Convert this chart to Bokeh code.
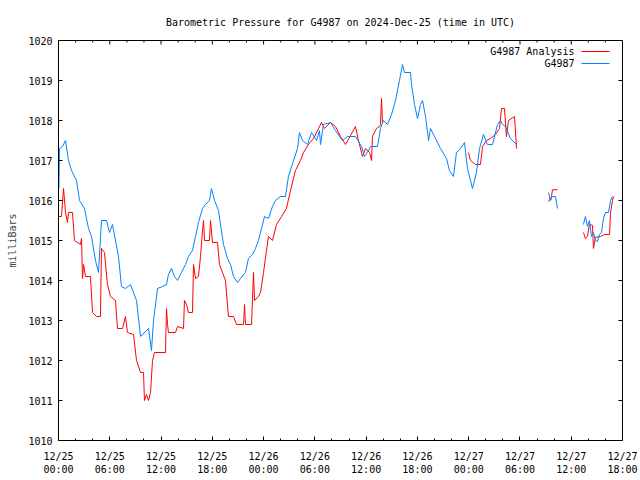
import math
from bokeh.plotting import figure
from bokeh.models import FixedTicker, LinearAxis, Range1d, Label, Arrow
from bokeh.embed import file_html
from bokeh.resources import INLINE

nan = math.nan

# Hours since 2024-12-25 00:00 UTC ; pressure in millibars (nan = no data)
station_hours = [
    0.05, 0.12, 0.47, 0.82, 1.17, 1.52, 2.11, 2.46, 3.04, 3.51, 3.86, 4.33, 4.68, 5.03, 5.62,
    5.97, 6.32, 7.02, 7.37, 7.84, 8.43, 9.13, 9.60, 10.53, 10.88, 11.12, 11.59, 12.17, 12.64,
    12.87, 13.22, 13.57, 13.93, 14.39, 14.86, 15.21, 15.68, 16.03, 16.38, 16.85, 17.20, 17.67,
    17.90, 18.26, 18.72, 18.96, 19.31, 19.78, 20.13, 20.48, 20.95, 21.30, 21.88, 22.23, 22.70,
    23.05, 23.40, 23.64, 24.11, 24.57, 25.04, 25.39, 25.98, 26.56, 26.91, 27.50, 27.97, 28.20,
    28.55, 29.14, 29.61, 30.19, 30.54, 30.66, 31.01, 31.83, 32.41, 33.23, 33.82, 34.75, 35.46,
    35.81, 36.28, 36.51, 37.33, 37.68, 38.03, 38.50, 38.97, 39.44, 39.90, 40.26, 40.49, 41.19,
    41.31, 41.66, 42.01, 42.36, 42.60, 42.95, 43.30, 43.53, 44.00, 44.70, 45.40, 45.75, 46.22,
    46.57, 47.04, 47.51, 47.86, 48.44, 48.91, 49.27, 49.73, 50.20, 50.79, 51.37, 51.72, 51.96,
    52.31, 52.89, 53.60,
    55.50,
    57.34, 57.57, 57.81, 58.16, 58.39,
    60.00,
    61.43, 61.66, 61.90, 62.13, 62.37, 62.60, 62.84, 63.07, 63.31, 63.54, 63.77, 64.01, 64.36,
    64.60, 64.83,
]
station_pressure = [
    1016.3, 1017.3, 1017.35, 1017.5, 1017.0, 1016.75, 1016.5, 1016.0, 1015.8, 1015.3, 1015.1,
    1014.5, 1014.2, 1015.5, 1015.5, 1015.2, 1015.4, 1014.6, 1013.85, 1013.8, 1013.9, 1013.5,
    1012.6, 1012.8, 1012.25, 1013.0, 1013.8, 1013.85, 1013.9, 1014.15, 1014.3, 1014.1, 1014.0,
    1014.2, 1014.4, 1014.6, 1014.75, 1015.1, 1015.45, 1015.8, 1015.9, 1016.0, 1016.3, 1016.0,
    1015.75, 1015.4, 1014.9, 1014.55, 1014.4, 1014.1, 1013.95, 1014.05, 1014.2, 1014.55,
    1014.65, 1014.8, 1015.0, 1015.2, 1015.6, 1015.55, 1015.85, 1016.0, 1016.1, 1016.1, 1016.6,
    1017.0, 1017.3, 1017.7, 1017.5, 1017.4, 1017.7, 1017.5, 1017.75, 1017.4, 1017.9, 1017.95,
    1017.75, 1017.5, 1017.6, 1017.6, 1017.35, 1017.1, 1017.25, 1017.35, 1017.35, 1017.8,
    1018.0, 1017.9, 1018.15, 1018.5, 1019.0, 1019.4, 1019.2, 1019.2, 1018.9, 1018.4, 1018.05,
    1018.4, 1018.5, 1018.1, 1017.5, 1017.8, 1017.6, 1017.3, 1017.05, 1016.75, 1016.6, 1017.2,
    1017.3, 1017.45, 1016.8, 1016.3, 1016.7, 1017.3, 1017.65, 1017.4, 1017.4, 1017.9, 1018.0,
    1017.9, 1017.85, 1017.55, 1017.4,
    nan,
    1016.2, 1016.0, 1016.1, 1016.1, 1015.8,
    nan,
    1015.4, 1015.6, 1015.35, 1015.5, 1015.1, 1015.2, 1015.0, 1014.97, 1015.15, 1015.2, 1015.55,
    1015.7, 1015.7, 1016.0, 1016.1,
]

analysis_hours = [
    0.00, 0.35, 0.59, 0.82, 1.05, 1.17, 1.64, 1.87, 2.57, 2.69, 2.81, 2.93, 3.16, 3.74, 3.98,
    4.45, 4.91, 5.03, 5.38, 5.73, 6.09, 6.67, 6.90, 7.49, 7.84, 8.07, 8.78, 9.13, 9.60, 9.95,
    10.06, 10.30, 10.53, 10.77, 11.00, 11.23, 12.52, 12.64, 12.76, 12.87, 13.69, 13.93, 14.63,
    14.74, 14.98, 15.21, 15.68, 15.80, 16.03, 16.38, 16.62, 16.85, 16.97, 17.09, 17.67, 17.79,
    18.02, 18.61, 18.84, 19.19, 19.54, 19.89, 20.48, 20.83, 21.65, 21.77, 21.88, 22.59, 22.82,
    22.94, 23.40, 23.64, 23.99, 24.34, 24.57, 25.04, 25.51, 26.10, 26.68, 27.15, 27.73, 28.32,
    28.67, 29.26, 29.84, 30.43, 30.78, 31.13, 31.83, 32.41, 33.00, 33.59, 34.75, 35.11, 35.57,
    35.93, 36.40, 36.63, 36.74, 37.21, 37.56, 37.68, 37.80, 37.91,
    43.00,
    47.98, 48.21, 48.80, 49.38, 49.62, 50.09, 50.55, 51.14, 51.61, 51.84, 52.19, 52.42, 52.66,
    53.36, 53.60,
    55.50,
    57.34, 57.69, 57.81, 58.39,
    60.00,
    61.43, 61.66, 61.90, 62.13, 62.49, 62.60, 62.84, 63.42, 63.89, 64.48, 64.60, 64.83, 64.95,
]
analysis_pressure = [
    1015.6, 1015.6, 1016.3, 1015.7, 1015.45, 1015.7, 1015.7, 1015.0, 1014.9, 1015.05, 1014.05,
    1014.4, 1014.1, 1014.1, 1013.2, 1013.1, 1013.1, 1014.8, 1014.7, 1013.9, 1013.6, 1013.5,
    1012.8, 1012.8, 1013.1, 1012.7, 1012.65, 1012.0, 1011.7, 1011.7, 1011.0, 1011.15, 1011.0,
    1011.2, 1012.0, 1012.2, 1012.2, 1013.3, 1012.9, 1012.7, 1012.7, 1012.85, 1012.8, 1013.5,
    1013.4, 1013.2, 1013.2, 1014.4, 1014.05, 1014.1, 1014.6, 1015.25, 1015.5, 1015.0, 1015.0,
    1015.5, 1014.95, 1014.95, 1014.4, 1014.2, 1014.0, 1013.1, 1013.1, 1012.9, 1012.9, 1013.4,
    1012.9, 1012.9, 1014.2, 1013.5, 1013.6, 1013.7, 1014.2, 1014.75, 1015.1, 1015.0, 1015.4,
    1015.6, 1015.8, 1016.25, 1016.75, 1017.0, 1017.2, 1017.4, 1017.55, 1017.8, 1017.95, 1017.8,
    1017.95, 1017.85, 1017.6, 1017.4, 1017.85, 1017.5, 1017.1, 1017.3, 1017.2, 1017.0, 1017.6,
    1017.8, 1017.85, 1017.9, 1018.55, 1017.95,
    nan,
    1017.2, 1017.0, 1016.9, 1016.9, 1017.35, 1017.5, 1017.55, 1017.65, 1017.8, 1018.3, 1018.3,
    1017.6, 1018.0, 1018.1, 1017.3,
    nan,
    1015.97, 1016.1, 1016.27, 1016.27,
    nan,
    1015.2, 1015.05, 1015.1, 1015.4, 1015.38, 1014.8, 1015.08, 1015.1, 1015.15, 1015.15,
    1015.7, 1016.0, 1016.1,
]

x_tick_hours = [0, 6, 12, 18, 24, 30, 36, 42, 48, 54, 60, 66]
x_tick_labels = ["12/25\n00:00", "12/25\n06:00", "12/25\n12:00", "12/25\n18:00",
                 "12/26\n00:00", "12/26\n06:00", "12/26\n12:00", "12/26\n18:00",
                 "12/27\n00:00", "12/27\n06:00", "12/27\n12:00", "12/27\n18:00"]
x_minor_hours = [h for h in range(0, 67, 2)]
y_ticks = [1010, 1011, 1012, 1013, 1014, 1015, 1016, 1017, 1018, 1019, 1020]

title_text = "Barometric Pressure for G4987 on 2024-Dec-25 (time in UTC)"
y_label = "milliBars"
series_names = ["G4987 Analysis", "G4987"]
series_colors = ["#ff0000", "#0080ff"]

FONT = "DejaVu Sans Mono"
FS = "10px"
X0, X1 = 0, 66
Y0, Y1 = 1010, 1020
FW, FH = 564, 400
MAJ, MIN = 4, 2  # tick lengths in px

p = figure(frame_width=FW, frame_height=FH,
           x_range=Range1d(X0, X1), y_range=Range1d(Y0, Y1),
           x_axis_type=None, y_axis_type=None,
           output_backend="svg", toolbar_location=None,
           min_border_left=58, min_border_right=18,
           min_border_top=40, min_border_bottom=40)
p.xgrid.visible = False
p.ygrid.visible = False
p.outline_line_color = "black"
p.outline_line_width = 1
p.background_fill_color = "white"
p.border_fill_color = "white"

p.title.text = title_text
p.title.text_font = FONT
p.title.text_font_size = FS
p.title.text_font_style = "normal"
p.title.align = "center"
p.title.text_color = "black"
p.title.standoff = 25

xb = LinearAxis(ticker=FixedTicker(ticks=x_tick_hours, minor_ticks=x_minor_hours))
yl = LinearAxis(ticker=FixedTicker(ticks=y_ticks, minor_ticks=[]))
for ax in (xb, yl):
    ax.axis_line_color = "black"
    ax.major_tick_in = MAJ
    ax.major_tick_out = 0
    ax.minor_tick_in = MIN
    ax.minor_tick_out = 0
    ax.major_tick_line_color = "black"
    ax.minor_tick_line_color = "black"
    ax.major_tick_line_width = 1
    ax.minor_tick_line_width = 1
    ax.major_label_text_font = FONT
    ax.major_label_text_font_size = FS
    ax.major_label_text_color = "black"
xb.major_label_standoff = 10
xb.major_label_overrides = {h: lab for h, lab in zip(x_tick_hours, x_tick_labels)}
yl.major_label_standoff = 6
yl.axis_label = y_label
yl.axis_label_text_font = FONT
yl.axis_label_text_font_size = FS
yl.axis_label_text_font_style = "normal"
yl.axis_label_standoff = 7
p.add_layout(xb, "below")
p.add_layout(yl, "left")

# mirrored ticks on top and right edges of the box (gnuplot style)
dx_maj = MAJ * (X1 - X0) / FW
dy_maj = MAJ * (Y1 - Y0) / FH
dy_min = MIN * (Y1 - Y0) / FH
top_minor = [h for h in x_minor_hours if h not in x_tick_hours]
p.segment(x0=x_tick_hours, y0=[Y1] * len(x_tick_hours), x1=x_tick_hours,
          y1=[Y1 - dy_maj] * len(x_tick_hours), line_color="black", line_width=1)
p.segment(x0=top_minor, y0=[Y1] * len(top_minor), x1=top_minor,
          y1=[Y1 - dy_min] * len(top_minor), line_color="black", line_width=1)
p.segment(x0=[X1] * len(y_ticks), y0=y_ticks, x1=[X1 - dx_maj] * len(y_ticks),
          y1=y_ticks, line_color="black", line_width=1)

p.line(analysis_hours, analysis_pressure, line_color=series_colors[0], line_width=1)
p.line(station_hours, station_pressure, line_color=series_colors[1], line_width=1)

# gnuplot-style key (text right-justified, sample line to its right)
for i, (name, col) in enumerate(zip(series_names, series_colors)):
    ky = 389 - 12 * i
    p.add_layout(Label(x=516, y=ky, x_units="screen", y_units="screen", text=name,
                       text_align="right", text_baseline="middle",
                       text_font=FONT, text_font_size=FS, text_color="black"))
    p.add_layout(Arrow(x_start=523, y_start=ky, x_end=551, y_end=ky,
                       start_units="screen", end_units="screen", end=None,
                       line_color=col, line_width=1))

open("out.html", "w").write(file_html(p, INLINE))
